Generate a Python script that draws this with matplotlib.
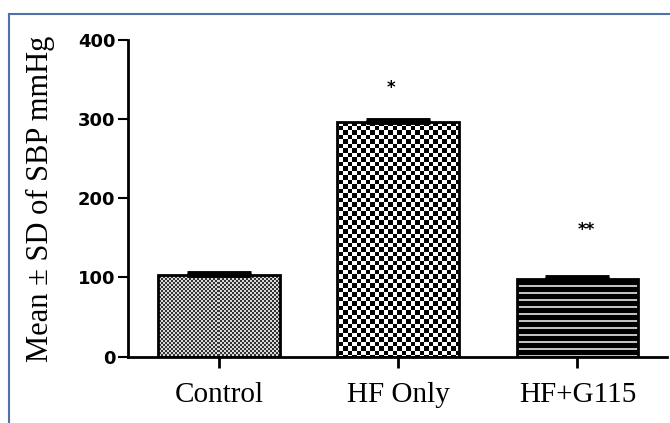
import numpy as np
import matplotlib
matplotlib.use("Agg")
import matplotlib.pyplot as plt
from matplotlib.lines import Line2D

# data
groups = ["Control", "HF Only", "HF+G115"]
means = [103, 296, 98]
sd = [3, 3, 3]
stars = ["", "*", "**"]
star_pos = [None, (0.96, 340), (2.05, 160)]

fig = plt.figure(figsize=(6.7, 4.23), dpi=100)
ax = fig.add_axes([0.191, 0.157, 0.8045, 0.748])

x = np.arange(len(groups))
bars = ax.bar(x, means, width=0.68, facecolor="none", edgecolor="black",
              linewidth=2, zorder=3)
ax.errorbar(x, means, yerr=[np.zeros(len(sd)), sd], fmt="none",
            ecolor="black", elinewidth=2, capsize=23, capthick=3.5, zorder=4)

ax.set_xlim(-0.51, 2.5)
ax.set_ylim(0, 400)

# textures for the bars, drawn as pixel patterns clipped to each bar
W, H = 540, 317
jj, ii = np.meshgrid(np.arange(W), np.arange(H))
fine = ((jj // 2 + ii // 2) % 2).astype(float)
fine = np.where(fine > 0, 0.85, 0.2)
coarse = ((np.floor(jj / 4.5) + np.floor(ii / 4.5)) % 2)
coarse = np.where(coarse > 0, 1.0, 0.0)
stripes = np.where((ii % 7) < 2, 0.75, 0.0)
patterns = [fine, coarse, stripes]
ext = [ax.get_xlim()[0], ax.get_xlim()[1], 0, 400]
for b, pat in zip(bars, patterns):
    im = ax.imshow(pat, cmap="gray", vmin=0, vmax=1, extent=ext,
                   origin="upper", interpolation="nearest", aspect="auto",
                   zorder=2)
    im.set_clip_path(b)
ax.set_xlim(ext[0], ext[1])
ax.set_ylim(0, 400)

for s, p in zip(stars, star_pos):
    if p:
        ax.text(p[0], p[1], s, ha="center", va="center", fontsize=12,
                fontweight="bold")

for side in ["top", "right"]:
    ax.spines[side].set_visible(False)
ax.spines["left"].set_linewidth(2)
ax.spines["bottom"].set_linewidth(2)

ax.set_yticks([0, 100, 200, 300, 400])
ax.set_yticklabels(["0", "100", "200", "300", "400"], fontsize=13,
                   fontweight="heavy")
ax.tick_params(axis="y", length=7, width=1.5, pad=2)
ax.set_xticks(x)
ax.set_xticklabels(groups, family="Liberation Serif", fontsize=21)
ax.tick_params(axis="x", length=8, width=2, pad=10)

ax.set_ylabel("Mean ± SD of SBP mmHg", family="Liberation Serif",
              fontsize=22, labelpad=10)
ax.yaxis.set_label_coords(-0.135, 0.5)

# blue frame lines on the left and top
fig.add_artist(Line2D([9 / 670, 9 / 670], [0, 1 - 14 / 423],
                      color="#4f73a8", linewidth=1.5))
fig.add_artist(Line2D([9 / 670, 1], [1 - 14 / 423, 1 - 14 / 423],
                      color="#4f73a8", linewidth=1.5))

fig.savefig("out.png", dpi=100)
